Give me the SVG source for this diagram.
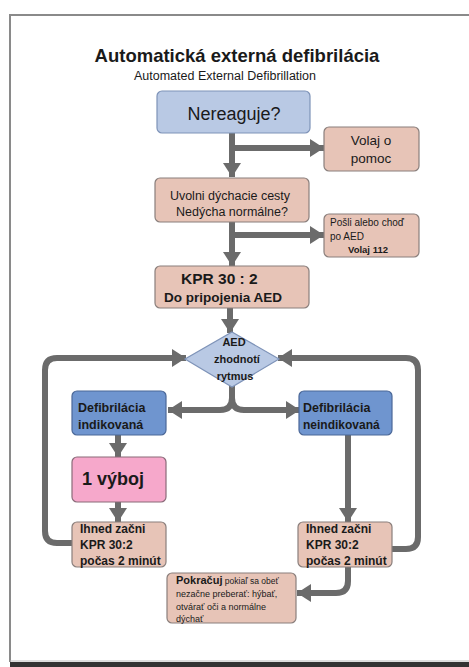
<svg xmlns="http://www.w3.org/2000/svg" width="469" height="667" viewBox="0 0 469 667">
<style>
text{font-family:"Liberation Sans",Arial,sans-serif;fill:#1a1a1a}
.b{font-weight:bold}
.lb{fill:#b9c9e4;stroke:#7e93b8;stroke-width:1.2}
.sa{fill:#e7c4b7;stroke:#8a7f7c;stroke-width:1.2}
.db{fill:#6f95cf;stroke:#4b6898;stroke-width:1.2}
.pk{fill:#f6a8cb;stroke:#8a6b79;stroke-width:1.2}
.c{fill:none;stroke:#6b6b6b;stroke-width:6}
</style>
<defs>
<marker id="ah" markerUnits="userSpaceOnUse" markerWidth="18" markerHeight="20" refX="14" refY="10" orient="auto">
<path d="M0,1 L14,10 L0,19 Z" fill="#6b6b6b"/>
</marker>
</defs>
<rect x="0" y="0" width="469" height="667" fill="#ffffff"/>
<g id="frame">
<line x1="9" y1="15" x2="469" y2="15" stroke="#8a8a8a" stroke-width="2"/>
<line x1="10" y1="14" x2="10" y2="662" stroke="#8a8a8a" stroke-width="2"/>
<line x1="10" y1="661" x2="469" y2="661" stroke="#bbbbbb" stroke-width="1"/>
<rect x="10" y="662" width="459" height="5" fill="#333333"/>
</g>
<g id="title">
<text x="237" y="62" text-anchor="middle" class="b" font-size="18.5">Automatická externá defibrilácia</text>
<text x="225" y="80" text-anchor="middle" font-size="12.5" fill="#333">Automated External Defibrillation</text>
</g>
<g id="connectors">
<path class="c" d="M232 133 V177" marker-end="url(#ah)"/>
<path class="c" d="M232 148 H324" marker-end="url(#ah)"/>
<path class="c" d="M232 222 V266" marker-end="url(#ah)"/>
<path class="c" d="M232 235 H324" marker-end="url(#ah)"/>
<path class="c" d="M230 308 V333" marker-end="url(#ah)"/>
<path class="c" d="M232 386 V398 Q232 410 220 410 H168" marker-end="url(#ah)"/>
<path class="c" d="M232 398 Q232 410 244 410 H300" marker-end="url(#ah)"/>
<path class="c" d="M118 435 V457" marker-end="url(#ah)"/>
<path class="c" d="M118 502 V522" marker-end="url(#ah)"/>
<path class="c" d="M348 435 V522" marker-end="url(#ah)"/>
<path class="c" d="M72 543 H57 Q45 543 45 531 V370 Q45 358 57 358 H186" marker-end="url(#ah)"/>
<path class="c" d="M392 549 H406 Q418 549 418 537 V370 Q418 358 406 358 H278" marker-end="url(#ah)"/>
<path class="c" d="M348 567 V581 Q348 593 336 593 H297" marker-end="url(#ah)"/>
</g>
<g id="nereaguje">
<rect class="lb" x="157" y="91" width="153" height="42" rx="5"/>
<text x="234" y="120" text-anchor="middle" font-size="18" fill="#1f2a44">Nereaguje?</text>
</g>
<g id="volaj">
<rect class="sa" x="324" y="127" width="95" height="44" rx="5"/>
<text x="371" y="145" text-anchor="middle" font-size="13.5">Volaj o</text>
<text x="371" y="163" text-anchor="middle" font-size="13.5">pomoc</text>
</g>
<g id="uvolni">
<rect class="sa" x="155" y="178" width="154" height="44" rx="5"/>
<text x="230" y="200" text-anchor="middle" font-size="12.5">Uvolni dýchacie cesty</text>
<text x="232" y="216" text-anchor="middle" font-size="12.5">Nedýcha normálne?</text>
</g>
<g id="posli">
<rect class="sa" x="324" y="214" width="95" height="43" rx="5"/>
<text x="330" y="226" font-size="10">Pošli alebo choď</text>
<text x="330" y="240" font-size="10">po AED</text>
<text x="348" y="253" class="b" font-size="9.5">Volaj 112</text>
</g>
<g id="kpr">
<rect class="sa" x="155" y="266" width="154" height="42" rx="5"/>
<text x="181" y="284" class="b" font-size="15.5">KPR 30 : 2</text>
<text x="164" y="302" class="b" font-size="13.5">Do pripojenia AED</text>
</g>
<g id="aed">
<polygon class="lb" points="232,332 279,359 232,387 185,359"/>
<text x="234" y="346" text-anchor="middle" class="b" font-size="11">AED</text>
<text x="237" y="363" text-anchor="middle" class="b" font-size="11">zhodnotí</text>
<text x="235" y="380" text-anchor="middle" class="b" font-size="11">rytmus</text>
</g>
<g id="indikovana">
<rect class="db" x="72" y="391" width="94" height="44" rx="5"/>
<text x="78" y="412" class="b" font-size="12.5" fill="#0f1a33">Defibrilácia</text>
<text x="78" y="429" class="b" font-size="12.5" fill="#0f1a33">indikovaná</text>
</g>
<g id="neindikovana">
<rect class="db" x="299" y="391" width="93" height="44" rx="5"/>
<text x="303" y="412" class="b" font-size="12.5" fill="#0f1a33">Defibrilácia</text>
<text x="303" y="429" class="b" font-size="12" fill="#0f1a33">neindikovaná</text>
</g>
<g id="vyboj">
<rect class="pk" x="72" y="457" width="94" height="45" rx="5"/>
<text x="82" y="485" class="b" font-size="18">1 výboj</text>
</g>
<g id="ihned-left">
<rect class="sa" x="72" y="522" width="94" height="45" rx="5"/>
<text x="80" y="533" class="b" font-size="12">Ihned začni</text>
<text x="80" y="549" class="b" font-size="12">KPR 30:2</text>
<text x="80" y="565" class="b" font-size="12">počas 2 minút</text>
</g>
<g id="ihned-right">
<rect class="sa" x="298" y="522" width="94" height="45" rx="5"/>
<text x="306" y="533" class="b" font-size="12">Ihned začni</text>
<text x="306" y="549" class="b" font-size="12">KPR 30:2</text>
<text x="306" y="565" class="b" font-size="12">počas 2 minút</text>
</g>
<g id="pokracuj">
<rect class="sa" x="167" y="573" width="129" height="50" rx="5"/>
<text x="176" y="584"><tspan class="b" font-size="11">Pokračuj</tspan><tspan font-size="8.5"> pokiaľ sa obeť</tspan></text>
<text x="176" y="597" font-size="9">nezačne preberať: hýbať,</text>
<text x="176" y="610" font-size="9">otvárať oči a normálne</text>
<text x="176" y="622" font-size="9">dýchať</text>
</g>
</svg>
